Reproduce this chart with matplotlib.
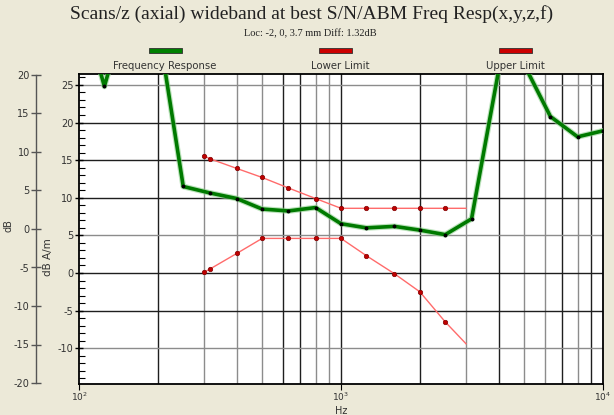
import numpy as np
import matplotlib
matplotlib.use("Agg")
import matplotlib.pyplot as plt
from matplotlib.ticker import FixedLocator, MultipleLocator, LogLocator, LogFormatterMathtext, NullFormatter

plt.rcParams["axes.unicode_minus"] = False

# -------------------------------------------------------------------------
# Data
# -------------------------------------------------------------------------
resp_hz = [100, 125, 160, 200, 250, 315, 400, 500, 630, 800, 1000, 1250,
           1600, 2000, 2500, 3150, 4000, 5000, 6300, 8000, 10000]
resp_db = [37, 24.8, 38, 33, 11.5, 10.65, 9.9, 8.5, 8.25, 8.7, 6.55, 6.0,
           6.2, 5.7, 5.1, 7.2, 27, 27.7, 20.8, 18.1, 18.9]

upper_hz = [300, 315, 400, 500, 630, 800, 1000, 1250, 1600, 2000, 2500, 3000]
upper_db = [15.6, 15.2, 13.9, 12.7, 11.3, 9.9, 8.6, 8.6, 8.6, 8.6, 8.6, 8.6]

lower_hz = [300, 315, 400, 500, 630, 800, 1000, 1250, 1600, 2000, 2500, 3000]
lower_db = [0.1, 0.5, 2.6, 4.6, 4.6, 4.6, 4.6, 2.3, -0.1, -2.5, -6.5, -9.4]

legend_names = ["Frequency Response", "Lower Limit", "Upper Limit"]
legend_colors = ["#008000", "#cc0000", "#cc0000"]

title = "Scans/z (axial) wideband at best S/N/ABM Freq Resp(x,y,z,f)"
subtitle = "Loc: -2, 0, 3.7 mm Diff: 1.32dB"

BG = "#ece9d8"
DARK = "#1e1e1e"
GRAY = "#8c8c8c"
TXT = "#333333"

W, H = 614, 415
fig = plt.figure(figsize=(W / 100, H / 100), dpi=100, facecolor=BG)

def fx(px):
    return px / W

def fy(py):
    return 1 - py / H

# -------------------------------------------------------------------------
# Main plot
# -------------------------------------------------------------------------
ax = fig.add_axes([fx(79), fy(384), fx(603) - fx(79), fy(74) - fy(384)])
ax.set_facecolor("white")
ax.set_xscale("log")
ax.set_xlim(100, 10000)
ax.set_ylim(-14.75, 26.45)

# grid lines (alternating darkness like the original screen capture)
vgrid = {200: DARK, 300: GRAY, 400: GRAY, 500: GRAY, 600: DARK, 700: DARK,
         800: GRAY, 900: GRAY, 1000: DARK, 2000: DARK, 3000: GRAY, 4000: DARK,
         5000: GRAY, 6000: GRAY, 7000: DARK, 8000: GRAY, 9000: DARK}
for xv, c in vgrid.items():
    ax.axvline(xv, color=c, lw=1.0, zorder=1)
hgrid = {25: GRAY, 20: DARK, 15: DARK, 10: DARK, 5: GRAY, 0: DARK, -5: DARK, -10: GRAY}
for yv, c in hgrid.items():
    ax.axhline(yv, color=c, lw=1.0, zorder=1)

# limits
for hz, db in [(upper_hz, upper_db), (lower_hz, lower_db)]:
    ax.plot(hz, db, color="#ff6b6b", lw=1.0, zorder=3,
            marker="o", ms=3.2, mfc="#c00000", mec="#800000", mew=0.5,
            markevery=list(range(len(hz) - 1)))

# frequency response
ax.plot(resp_hz, resp_db, color="#8fd08f", lw=4.2, alpha=0.6, zorder=4,
        solid_joinstyle="round")
ax.plot(resp_hz, resp_db, color="#007a00", lw=2.6, zorder=5,
        marker="o", ms=1.8, mfc="black", mec="black", solid_joinstyle="round")

for s in ax.spines.values():
    s.set_color("black")
    s.set_linewidth(1.3)

ax.yaxis.set_minor_locator(MultipleLocator(1))
ax.yaxis.set_major_locator(FixedLocator([-10, -5, 0, 5, 10, 15, 20, 25]))
ax.tick_params(axis="y", which="major", direction="inout", length=6,
               labelsize=7, labelcolor=TXT, pad=1, width=1)
ax.tick_params(axis="y", which="minor", direction="in", length=4, width=0.8)
ax.xaxis.set_major_locator(LogLocator(base=10, numticks=5))
ax.xaxis.set_major_formatter(LogFormatterMathtext())
ax.xaxis.set_minor_formatter(NullFormatter())
ax.tick_params(axis="x", which="major", direction="out", length=4,
               labelsize=6.5, labelcolor=TXT, pad=1)
ax.tick_params(axis="x", which="minor", length=0)
ax.tick_params(right=False, top=False)

fig.text(fx(48), fy(257), "dB A/m", rotation=90, ha="center", va="center",
         fontsize=7.5, color=TXT)
fig.text(fx(341), fy(410.5), "Hz", ha="center", va="center", fontsize=7, color=TXT)

# -------------------------------------------------------------------------
# Outer dB axis on the far left
# -------------------------------------------------------------------------
ax2 = fig.add_axes([fx(36), fy(383), 0.0005, fy(75) - fy(383)])
ax2.patch.set_visible(False)
ax2.set_ylim(-20, 20)
ax2.set_xticks([])
for k in ["top", "right", "bottom"]:
    ax2.spines[k].set_visible(False)
ax2.spines["left"].set_color("#555555")
ax2.spines["left"].set_linewidth(1.0)
ax2.yaxis.set_major_locator(MultipleLocator(5))
ax2.tick_params(axis="y", direction="inout", length=7, width=1, colors="#555555",
                labelsize=7, labelcolor=TXT, pad=1)
fig.text(fx(8), fy(226), "dB", rotation=90, ha="center", va="center",
         fontsize=7, color=TXT)

# -------------------------------------------------------------------------
# Titles and legend
# -------------------------------------------------------------------------
fig.text(fx(312), fy(14), title, ha="center", va="center",
         family="Liberation Serif", fontsize=14, color="#222222")
fig.text(fx(310), fy(33.5), subtitle, ha="center", va="center",
         family="Liberation Serif", fontsize=7.5, color="#222222")

leg_bar_x = [165.5, 335.5, 515.5]
leg_txt_x = [165, 340, 515]
for name, col, bx, tx in zip(legend_names, legend_colors, leg_bar_x, leg_txt_x):
    fig.patches.append(plt.Rectangle((fx(bx - 16.5), fy(53)), fx(33), 5 / H,
                                     transform=fig.transFigure, facecolor=col,
                                     edgecolor="#303030", lw=0.6))
    fig.text(fx(tx), fy(66), name, ha="center", va="center", fontsize=7.3, color=TXT)

fig.savefig("out.png", dpi=100, facecolor=BG)
